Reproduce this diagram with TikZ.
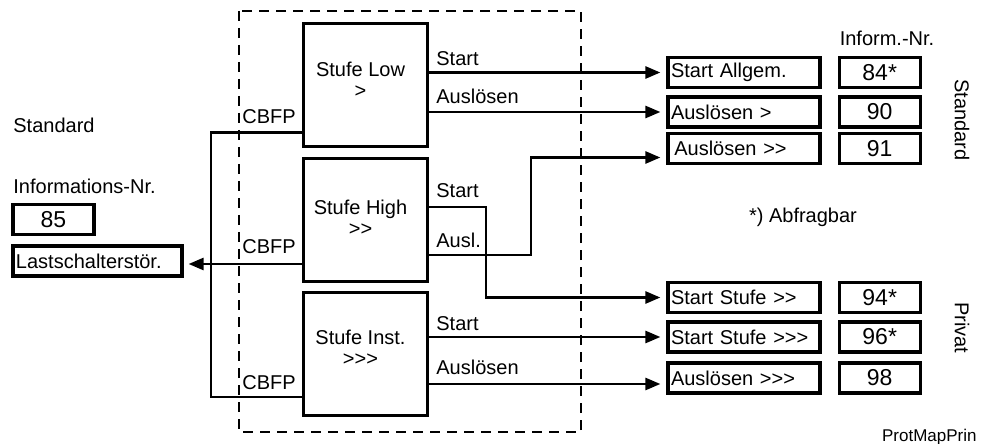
\documentclass[tikz,border=0pt]{standalone}
\usepackage{fontspec}
\setmainfont{Liberation Sans}[Ligatures=TeXOff]
\usetikzlibrary{arrows.meta,positioning}

\begin{document}
\begin{tikzpicture}[
x=0.5pt,y=-0.5pt,
font=\fontsize{10}{12}\selectfont,
node distance=4pt and 8pt,
stufe/.style={draw,line width=1.5pt,minimum width=62pt,minimum height=61.5pt},
stext/.style={align=center,inner sep=0pt,font=\fontsize{10}{10.5}\selectfont},
ziel/.style={draw,line width=1.6pt,text width=73pt,align=left,
inner xsep=1.5pt,inner ysep=0pt,minimum height=15pt},
nr/.style={draw,line width=1.6pt,minimum width=40.5pt,minimum height=15pt,inner sep=0pt,
font=\fontsize{11.5}{12}\selectfont},
lbl/.style={anchor=west,inner sep=0pt},
wire/.style={line width=1.3pt},
arr/.style={wire,-{Triangle[length=7.5pt,width=6pt]},shorten >=3pt}
]
\useasboundingbox (0,0) rectangle (981,444);

% Schutzstufen
\draw[line width=1.4pt,dash pattern=on 5pt off 3.5pt] (239,11) rectangle (581,432);
\node[stufe] (low) at (365.5,85.5) {};
\node[stufe] (high) at (365.5,220) {};
\node[stufe] (inst) at (365.5,354) {};
\node[stext] (lowt) at ([xshift=-2.5pt,yshift=3pt]low.center) {Stufe Low\\>};
\node[stext] (hight) at ([xshift=-2.5pt,yshift=1pt]high.center) {Stufe High\\>>};
\node[stext] (instt) at ([xshift=-2.5pt,yshift=3pt]inst.center) {Stufe Inst.\\>>>};

% Meldungen
\node[ziel] (sa) at (744,72.5) {Start Allgem.};
\node[ziel] (a1) at (744,112) {Auslösen >};
\node[ziel] (a2) at (744,148.5) {\,Auslösen >>};
\node[ziel] (s2) at (744,297.5) {Start Stufe >>};
\node[ziel] (s3) at (744,337) {Start Stufe >>>};
\node[ziel] (a3) at (744,378) {Auslösen >>>};
\node[nr,right=of sa] (n84) {84*};
\node[nr,right=of a1] (n90) {90};
\node[nr,right=of a2] (n91) {91};
\node[nr,right=of s2] (n94) {94*};
\node[nr,right=of s3] (n96) {96*};
\node[nr,right=of a3] (n98) {98};
\node (inr) at (887,38) {Inform.-Nr.};
\node[rotate=-90] (gstd) at (962,120) {Standard};
\node[rotate=-90] (gpriv) at (962,328) {Privat};
\node (abfr) at (803,217) {*) Abfragbar};

% links
\node[ziel,text width=81.5pt] (ls) at (97.5,261) {Lastschalterstör.};
\node[nr,above=4pt of ls.north west,anchor=south west] (n85) {85};
\node[lbl] (infnr) at (13,186) {Informations-Nr.};
\node[lbl] (std) at (13,125) {Standard};

% Beschriftungen
\node[lbl] (l1) at (436,59) {Start};
\node[lbl] (l2) at (436,96) {Auslösen};
\node[lbl] (l3) at (436,191) {Start};
\node[lbl] (l4) at (436,240) {Ausl.};
\node[lbl] (l5) at (436,324) {Start};
\node[lbl] (l6) at (436,367) {Auslösen};
\node[lbl] (c1) at (242,117) {CBFP};
\node[lbl] (c2) at (242,247) {CBFP};
\node[lbl] (c3) at (242,383) {CBFP};
\node[anchor=east,inner sep=0pt,font=\fontsize{8.5}{10}\selectfont] (pmp) at (977,437) {ProtMapPrin};

\draw[arr] (low.east |- sa.west) -- (sa.west);
\draw[arr] (low.east |- a1.west) -- (a1.west);
\draw[arr] ([yshift=6.5pt]high.east) -- ++(57,0) |- (s2.west);
\draw[arr] ([yshift=-17.5pt]high.east) -- ++(102,0) |- ([yshift=-4.5pt]a2.west);
\draw[arr] (inst.east |- s3.west) -- (s3.west);
\draw[arr] ([yshift=-15pt]inst.east) -- ([yshift=-3pt]a3.west);
\draw[wire] ([yshift=-23.5pt]low.west) -- ++(-91,0) |- ([yshift=-21.5pt]inst.west);
\draw[arr,shorten >=2.5pt] ([yshift=-22pt]high.west) -- ([yshift=-1.5pt]ls.east);
\end{tikzpicture}
\end{document}
